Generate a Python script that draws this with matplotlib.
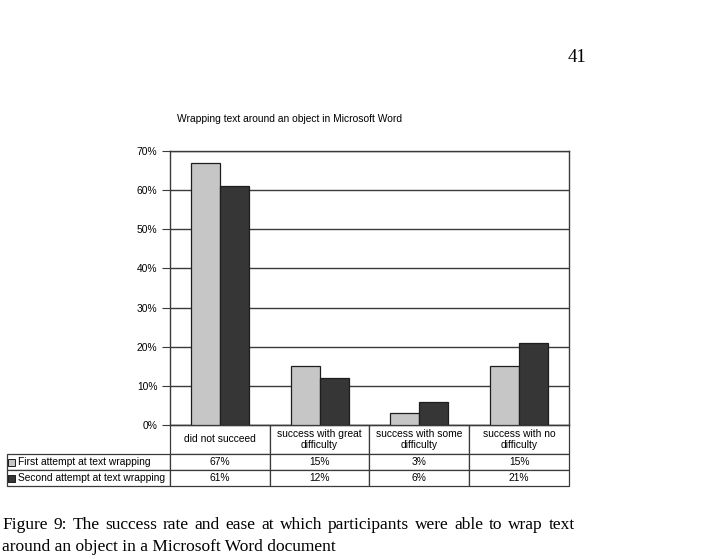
import matplotlib.pyplot as plt
from matplotlib.patches import Rectangle

categories = ['did not succeed', 'success with great\ndifficulty',
              'success with some\ndifficulty', 'success with no\ndifficulty']
first_attempt = [67, 15, 3, 15]
second_attempt = [61, 12, 6, 21]
series_names = ['First attempt at text wrapping', 'Second attempt at text wrapping']
title = 'Wrapping text around an object in Microsoft Word'
caption1 = 'Figure 9: The success rate and ease at which participants were able to wrap text'
caption2 = 'around an object in a Microsoft Word document'
page_no = '41'

W, H = 717, 559
light = '#c6c6c6'
dark = '#363636'
line_c = '#3a3a3a'
fs = 7.4

fig = plt.figure(figsize=(W / 100, H / 100), dpi=100)
plt.rcParams['font.family'] = 'Liberation Sans'

# axes in pixel terms: left 170, right 569, top 151, bottom 425
ax = fig.add_axes([170 / W, 1 - 425 / H, 399 / W, 274 / H])

x = range(len(categories))
bw = 0.29
ax.bar([i - bw / 2 for i in x], first_attempt, bw, color=light, edgecolor='#1e1e1e', lw=0.9, zorder=3)
ax.bar([i + bw / 2 for i in x], second_attempt, bw, color=dark, edgecolor='#1e1e1e', lw=0.9, zorder=3)

ax.set_xlim(-0.5, 3.5)
ax.set_ylim(0, 70)
ax.set_yticks(range(0, 71, 10))
ax.set_yticklabels([f'{v}%' for v in range(0, 71, 10)], fontsize=fs)
ax.set_xticks([])
ax.yaxis.grid(True, color=line_c, lw=1.0, zorder=0)
ax.tick_params(axis='y', length=6, width=0.8, color=line_c, pad=3)
for s in ax.spines.values():
    s.set_color(line_c)
    s.set_linewidth(1.0)

# data table under the axes
cell_text = [[series_names[0]] + [f'{v}%' for v in first_attempt],
             [series_names[1]] + [f'{v}%' for v in second_attempt]]
tab_left = (7 - 170) / 399
tab_h = 61 / 274
tbl = ax.table(cellText=cell_text, colLabels=[''] + categories,
               colWidths=[163, 100, 100, 100, 100], cellLoc='center',
               bbox=[tab_left, -tab_h, 1 - tab_left, tab_h])
tbl.auto_set_font_size(False)
tbl.set_fontsize(fs)
for (r, c), cell in tbl.get_celld().items():
    cell.set_edgecolor(line_c)
    cell.set_linewidth(0.9)
    cell.set_height(29 if r == 0 else 16)
    if r == 0 and c == 0:
        cell.visible_edges = ''
    if c == 0 and r > 0:
        cell._loc = 'left'
        cell.get_text().set_horizontalalignment('left')
        cell.PAD = 0.065

# legend keys inside the row labels
sq = 7
for k, fc in enumerate([light, dark]):
    yc = 462 + 16 * k
    ax.add_patch(Rectangle(((8 - 170) / 399, (425 - yc - sq / 2) / 274), sq / 399, sq / 274,
                           transform=ax.transAxes, facecolor=fc, edgecolor='#1e1e1e',
                           lw=0.7, clip_on=False, zorder=5))

fig.text(290 / W, 1 - 119 / H, title, fontsize=fs, ha='center', va='center')
fig.text(577 / W, 1 - 57 / H, page_no, fontsize=13.5, ha='center', va='center',
         family='Liberation Serif')

# caption, first line justified
serif = dict(fontsize=12.5, family='Liberation Serif', va='baseline')
fig.canvas.draw()
r = fig.canvas.get_renderer()
words = caption1.split(' ')
arts = [fig.text(0, 0, w_, **serif) for w_ in words]
widths = [a.get_window_extent(r).width for a in arts]
x0, x1 = 2, 575
gap = (x1 - x0 - sum(widths)) / (len(words) - 1)
xpos = x0
for a, w_ in zip(arts, widths):
    a.set_position((xpos / W, 1 - 529 / H))
    xpos += w_ + gap
fig.text(2 / W, 1 - 551 / H, caption2, **serif)

fig.savefig('out.png', dpi=100)
